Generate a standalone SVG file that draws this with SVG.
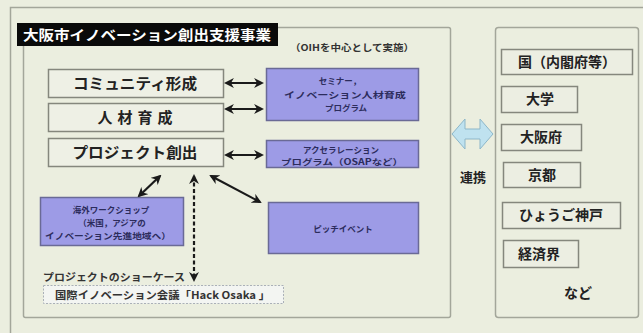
<svg xmlns="http://www.w3.org/2000/svg" width="643" height="333" viewBox="0 0 643 333">
<style>
text{font-family:"Noto Sans CJK JP","Noto Sans",sans-serif;font-weight:bold}
.frame{fill:none;stroke:#a3a69a;stroke-width:1.5}
.lbox{fill:#eef0e5;stroke:#85877d;stroke-width:1.5}
.pbox{fill:#9d9be6;stroke:#6a6a96;stroke-width:1.5}
.rbox{fill:#eceee2;stroke:#85877d;stroke-width:1.5}
.lt{font-size:15px;fill:#222;text-anchor:middle}
.rt{font-size:14px;fill:#222;text-anchor:middle}
.pt{font-size:8.5px;fill:#2c2c5c;text-anchor:middle}
.con{stroke:#1a1a1a;stroke-width:2.2;fill:none;marker-start:url(#ah);marker-end:url(#ah)}
</style>
<defs>
<marker id="ah" viewBox="0 0 10 10" refX="8" refY="5" markerWidth="4.5" markerHeight="4.5" orient="auto-start-reverse" markerUnits="strokeWidth">
<path d="M0,0 L10,5 L0,10 L3,5 Z" fill="#1a1a1a"/>
</marker>
</defs>
<rect width="643" height="333" fill="#ebeedf"/>
<rect x="10.5" y="7.5" width="640" height="340" class="frame"/>
<g id="main-frame">
<rect x="23.5" y="27.5" width="427" height="290" rx="2" class="frame"/>
<rect x="17" y="23" width="261" height="23" fill="#0a0a0a"/>
<text x="147" y="40" font-size="14" fill="#fff" text-anchor="middle" textLength="248" lengthAdjust="spacingAndGlyphs">大阪市イノベーション創出支援事業</text>
<text x="352" y="51" font-size="9.5" fill="#333" text-anchor="middle" textLength="124" lengthAdjust="spacingAndGlyphs">（OIHを中心として実施）</text>
</g>
<g id="community">
<rect x="48.5" y="69.5" width="175" height="28" class="lbox"/>
<text x="135" y="89" class="lt" textLength="124" lengthAdjust="spacingAndGlyphs">コミュニティ形成</text>
</g>
<g id="jinzai">
<rect x="48.5" y="103.5" width="175" height="28" class="lbox"/>
<text x="135" y="123" class="lt" textLength="75" lengthAdjust="spacing">人材育成</text>
</g>
<g id="project">
<rect x="48.5" y="138.5" width="175" height="28" class="lbox"/>
<text x="135" y="158" class="lt" textLength="125" lengthAdjust="spacingAndGlyphs">プロジェクト創出</text>
</g>
<g id="seminar">
<rect x="266.5" y="68.5" width="152" height="52" class="pbox"/>
<text x="340" y="84" class="pt">セミナー，</text>
<text x="345" y="97.5" class="pt" textLength="122" lengthAdjust="spacingAndGlyphs">イノベーション人材育成</text>
<text x="346" y="111" class="pt">プログラム</text>
</g>
<g id="accel">
<rect x="266.5" y="140.5" width="152" height="27" class="pbox"/>
<text x="341" y="153" class="pt">アクセラレーション</text>
<text x="342" y="165" class="pt" textLength="122" lengthAdjust="spacingAndGlyphs">プログラム（OSAPなど）</text>
</g>
<g id="pitch">
<rect x="268.5" y="202.5" width="150" height="51" class="pbox"/>
<text x="343" y="232" class="pt" font-size="9.5">ピッチイベント</text>
</g>
<g id="workshop">
<rect x="40.5" y="197.5" width="143" height="48" class="pbox"/>
<text x="111" y="213" class="pt">海外ワークショップ</text>
<text x="112" y="226" class="pt">（米国，アジアの</text>
<text x="108" y="239" class="pt" textLength="126" lengthAdjust="spacingAndGlyphs">イノベーション先進地域へ）</text>
</g>
<g id="hackosaka">
<text x="43" y="281" font-size="10.5" fill="#333" textLength="142" lengthAdjust="spacingAndGlyphs">プロジェクトのショーケース</text>
<rect x="43.5" y="285.5" width="240" height="18" fill="#f3f5f2" stroke="#aab0b8" stroke-width="1" stroke-dasharray="2,1.5"/>
<text x="55" y="298.5" font-size="10.5" fill="#333" textLength="215" lengthAdjust="spacingAndGlyphs">国際イノベーション会議「Hack Osaka 」</text>
</g>
<g id="partners">
<rect x="495.5" y="27.5" width="143" height="290" rx="3" class="frame"/>
<rect x="501.5" y="49.5" width="131" height="25" class="rbox"/>
<text x="567" y="67" class="rt">国（内閣府等）</text>
<rect x="501.5" y="86.5" width="76" height="26" class="rbox"/>
<text x="540" y="104" class="rt">大学</text>
<rect x="501.5" y="124.5" width="80" height="26" class="rbox"/>
<text x="541" y="142" class="rt">大阪府</text>
<rect x="503.5" y="162.5" width="77" height="25" class="rbox"/>
<text x="542" y="180" class="rt">京都</text>
<rect x="502.5" y="202.5" width="118" height="26" class="rbox"/>
<text x="561" y="220" class="rt">ひょうご神戸</text>
<rect x="503.5" y="240.5" width="75" height="27" class="rbox"/>
<text x="539" y="259" class="rt">経済界</text>
<text x="578" y="298" class="rt">など</text>
</g>
<g id="renkei">
<path d="M452,134 L465,119 L465,129 L480,129 L480,119 L493,134 L480,149 L480,139 L465,139 L465,149 Z" fill="#bfe2ef" stroke="#8db7c9" stroke-width="1"/>
<text x="473" y="182" font-size="13" fill="#222" text-anchor="middle">連携</text>
</g>
<g id="connectors">
<line x1="226" y1="83" x2="262" y2="83" class="con"/>
<line x1="226" y1="109" x2="262" y2="109" class="con"/>
<line x1="226" y1="155" x2="262" y2="155" class="con"/>
<line x1="160" y1="176" x2="139" y2="196" class="con"/>
<line x1="211" y1="176" x2="260" y2="202" class="con"/>
<line x1="194" y1="176" x2="194" y2="280" class="con" stroke-dasharray="4,2.5"/>
</g>
</svg>
